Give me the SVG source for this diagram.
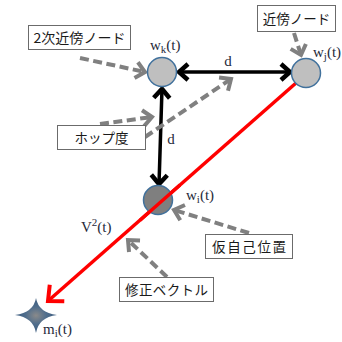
<svg xmlns="http://www.w3.org/2000/svg" width="342" height="342" viewBox="0 0 342 342">
<style>
.box{fill:#fff;stroke:#6b6b6b;stroke-width:1}
.jp{font-family:"Noto Sans CJK JP","Liberation Sans",sans-serif;font-size:13.5px;fill:#1a1a1a;text-anchor:middle}
.m{font-family:"Liberation Serif",serif;font-size:15px;fill:#1f2a3a}
.node{fill:#bfbfbf;stroke:#41719c;stroke-width:1.5}
.gray{fill:none;stroke:#808080;stroke-width:4;stroke-dasharray:9 4.5}
.blk{fill:none;stroke:#000;stroke-width:3.5}
.red{fill:none;stroke:#ff0000;stroke-width:3.5}
</style>
<defs>
<marker id="ag" markerUnits="userSpaceOnUse" orient="auto" markerWidth="30" markerHeight="30" refX="15" refY="15" viewBox="0 0 30 30" overflow="visible">
<path d="M6,7 L15,15 L6,23" fill="none" stroke="#808080" stroke-width="4" stroke-linejoin="miter"/>
</marker>
<marker id="ab" markerUnits="userSpaceOnUse" orient="auto-start-reverse" markerWidth="30" markerHeight="30" refX="15" refY="15" viewBox="0 0 30 30" overflow="visible">
<path d="M6,7 L15,15 L6,23" fill="none" stroke="#000" stroke-width="4.5"/>
</marker>
<marker id="ar" markerUnits="userSpaceOnUse" orient="auto" markerWidth="40" markerHeight="40" refX="20" refY="20" viewBox="0 0 40 40" overflow="visible">
<path d="M8,9 L20,20 L8,31" fill="none" stroke="#ff0000" stroke-width="4"/>
</marker>
<radialGradient id="sg" cx="0.5" cy="0.5" r="0.5">
<stop offset="0" stop-color="#8a8a8a"/>
<stop offset="0.5" stop-color="#4f6d8c"/>
<stop offset="1" stop-color="#3b5b7e"/>
</radialGradient>
</defs>

<g id="connectors">
<line class="red" x1="296" y1="83" x2="48" y2="301" marker-end="url(#ar)"/>
<line class="blk" x1="179" y1="72" x2="290" y2="72" marker-start="url(#ab)" marker-end="url(#ab)"/>
<line class="blk" x1="162" y1="89" x2="159" y2="184" marker-start="url(#ab)" marker-end="url(#ab)"/>
<line class="gray" x1="80" y1="58" x2="145" y2="72" marker-end="url(#ag)"/>
<line class="gray" x1="100" y1="124" x2="152" y2="117" marker-end="url(#ag)"/>
<line class="gray" x1="145" y1="137" x2="231" y2="79" marker-end="url(#ag)"/>
<line class="gray" x1="294" y1="33" x2="301" y2="55" marker-end="url(#ag)"/>
<line class="gray" x1="249" y1="233" x2="174" y2="210" marker-end="url(#ag)"/>
<line class="gray" x1="167" y1="277" x2="128" y2="240" marker-end="url(#ag)"/>
<text class="m" x="228" y="66" text-anchor="middle">d</text>
<text class="m" x="171" y="144" text-anchor="middle">d</text>
</g>

<g id="node-wk">
<circle class="node" cx="162" cy="72" r="14.5"/>
<text class="m" x="150" y="50">w<tspan font-size="11" dy="3">k</tspan><tspan dy="-3">(t)</tspan></text>
</g>
<g id="node-wj">
<circle class="node" cx="306" cy="73" r="14.5"/>
<text class="m" x="313" y="57">w<tspan font-size="11" dy="3">j</tspan><tspan dy="-3">(t)</tspan></text>
</g>
<g id="node-wi">
<circle class="node" cx="158" cy="200" r="14.5" style="fill:#7f7f7f"/>
<line class="red" x1="180" y1="185" x2="140" y2="220.2"/>
<text class="m" x="186" y="200">w<tspan font-size="11" dy="3">i</tspan><tspan dy="-3">(t)</tspan></text>
</g>
<g id="node-mi">
<path d="M36,298 Q38.5,312.5 57,315 Q38.5,317.5 36,333 Q33.5,317.5 15,315 Q33.5,312.5 36,298 Z" fill="url(#sg)"/>
<text class="m" x="43" y="334">m<tspan font-size="11" dy="3">i</tspan><tspan dy="-3">(t)</tspan></text>
</g>
<g id="label-v2">
<text class="m" x="81" y="232">V<tspan font-size="11" dy="-6">2</tspan><tspan dy="6">(t)</tspan></text>
</g>

<g id="box-2ji">
<rect class="box" x="28.5" y="25.5" width="102" height="24"/>
<text class="jp" x="79.5" y="42.5" textLength="92" lengthAdjust="spacingAndGlyphs">2次近傍ノード</text>
</g>
<g id="box-hop">
<rect class="box" x="57.5" y="125.5" width="88" height="24"/>
<text class="jp" x="101.5" y="142.5">ホップ度</text>
</g>
<g id="box-kinbo">
<rect class="box" x="257.5" y="5.5" width="78" height="26"/>
<text class="jp" x="296.5" y="23.5">近傍ノード</text>
</g>
<g id="box-kari">
<rect class="box" x="205.5" y="234.5" width="87" height="24"/>
<text class="jp" x="249" y="251.5" textLength="74" lengthAdjust="spacing">仮自己位置</text>
</g>
<g id="box-shusei">
<rect class="box" x="119.5" y="277.5" width="94" height="24"/>
<text class="jp" x="166.5" y="294.5" textLength="83" lengthAdjust="spacing">修正ベクトル</text>
</g>
</svg>
